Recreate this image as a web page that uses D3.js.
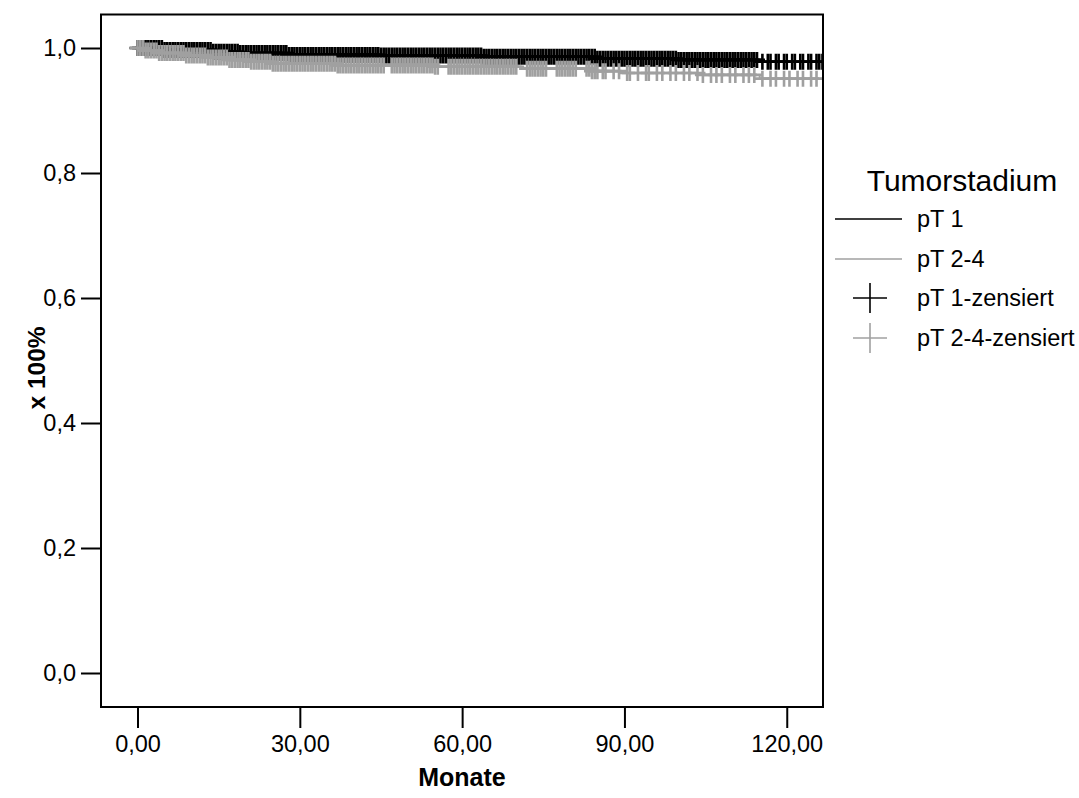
<!DOCTYPE html>
<html><head><meta charset="utf-8">
<script src="https://cdn.jsdelivr.net/npm/d3@7"></script>
<style>body{margin:0;background:#fff}svg{display:block}text{font-family:"Liberation Sans",Arial,sans-serif}</style>
</head><body>
<svg id="c" width="1079" height="798"></svg>
<script>
// ---- data ----
const seriesNames = ["pT 1", "pT 2-4"];
const censorNames = ["pT 1-zensiert", "pT 2-4-zensiert"];
const legendTitle = "Tumorstadium";
const xTicks = [0, 30, 60, 90, 120];
const xTickLabels = ["0,00", "30,00", "60,00", "90,00", "120,00"];
const yTicks = [0, 0.2, 0.4, 0.6, 0.8, 1.0];
const yTickLabels = ["0,0", "0,2", "0,4", "0,6", "0,8", "1,0"];
const xTitle = "Monate";
const yTitle = "x 100%";

// step times (months) and survival after each step
const pT1Times  = [0, 5, 14, 19, 28, 45, 64, 85, 100, 115, 126.7];
const pT1Surv   = [1.0, 0.997, 0.994, 0.992, 0.989, 0.988, 0.986, 0.983, 0.981, 0.978, 0.978];
const pT24Times = [0, 1.5, 4, 9, 13, 17, 21, 25, 37, 55, 71, 84, 90, 104, 115, 126.7];
const pT24Surv  = [1.0, 0.996, 0.992, 0.988, 0.985, 0.981, 0.978, 0.975, 0.972, 0.970, 0.967, 0.963, 0.960, 0.957, 0.951, 0.951];

// censored observations (months)
const pT1Censored = [0, 0.5, 1, 1.5, 2, 2.5, 3, 3.5, 4, 4.5, 5, 5.5, 6, 6.5, 7, 7.5, 8, 8.5, 9, 9.5,
  10, 10.5, 11, 11.5, 12, 12.5, 13, 13.5, 14, 14.5, 15, 15.5, 16, 16.5, 17, 17.5, 18, 18.5, 19, 19.5,
  20, 20.5, 21, 21.5, 22, 22.5, 23, 23.5, 24, 24.5, 25, 25.5, 26, 26.5, 27, 27.5, 28, 28.5, 29, 29.5,
  30, 30.5, 31, 31.5, 32, 32.5, 33, 33.5, 34, 34.5, 35, 35.5, 36, 36.5, 37, 37.5, 38, 38.5, 39, 39.5,
  40, 40.5, 41, 41.5, 42, 42.5, 43, 43.5, 44, 44.5, 45, 45.5, 46, 46.5, 47, 47.5, 48, 48.5, 49, 49.5,
  50, 50.5, 51, 51.5, 52, 52.5, 53, 53.5, 54, 54.5, 55, 55.5, 56, 56.5, 57, 57.5, 58, 58.5, 59, 59.5,
  60, 60.5, 61, 61.5, 62, 62.5, 63, 63.5, 64, 64.5, 65, 65.5, 66, 66.5, 67, 67.5, 68, 68.5, 69, 69.5,
  70, 70.5, 71, 71.5, 72, 72.5, 73, 73.5, 74, 74.5, 75, 75.5, 76, 76.5, 77, 77.5, 78, 78.5, 79, 79.5,
  80, 80.5, 81, 81.5, 82, 82.5, 83, 83.5, 84, 84.5, 85, 85.5, 86, 86.5, 87, 87.5, 88, 88.5, 89, 89.5,
  90, 90.5, 91, 91.5, 92, 92.5, 93, 93.5, 94, 94.5, 95, 95.5, 96, 96.5, 97, 97.5, 98, 98.5, 99, 99.5,
  100, 100.5, 101, 101.5, 102, 102.5, 103, 103.5, 104, 104.5, 105, 105.5, 106, 106.5, 107, 107.5,
  108, 108.5, 109, 109.5, 110, 110.5, 111, 111.5, 112, 112.5, 113, 113.5, 114, 114.5,
  115.5, 116.5, 117, 118, 118.5, 119.5, 120, 121, 121.5, 122.5, 123, 124, 124.5, 125.5, 126, 126.6];
const pT24Censored = [0, 0.5, 1, 1.5, 2, 2.5, 3, 3.5, 4, 4.5, 5, 5.5, 6, 6.5, 7, 7.5, 8, 8.5, 9, 9.5,
  10, 10.5, 11, 11.5, 12, 12.5, 13, 13.5, 14, 14.5, 15, 15.5, 16, 16.5, 17, 17.5, 18, 18.5, 19, 19.5,
  20, 20.5, 21, 21.5, 22, 22.5, 23, 23.5, 24, 24.5, 25, 25.5, 26, 26.5, 27, 27.5, 28, 28.5, 29, 29.5,
  30, 30.5, 31, 31.5, 32, 32.5, 33, 33.5, 34, 34.5, 35, 35.5, 36, 36.5, 37, 37.5, 38, 38.5, 39, 39.5,
  40, 40.5, 41, 41.5, 42, 42.5, 43, 43.5, 44, 44.5, 45, 45.5, 47, 47.5, 48, 48.5, 49, 49.5,
  50, 50.5, 51, 51.5, 52, 52.5, 53, 53.5, 54, 54.5, 55, 55.5, 57.5, 58, 58.5, 59, 59.5,
  60, 60.5, 61, 61.5, 62, 62.5, 63, 63.5, 64, 64.5, 65, 65.5, 66, 66.5, 67, 67.5, 68, 68.5, 69, 69.5,
  70, 72, 72.5, 73, 73.5, 74, 74.5, 75, 75.5, 77.5, 78, 78.5, 79, 79.5,
  80, 80.5, 81, 83, 83.5, 84, 84.5, 85,
  86, 86.5, 88, 89, 90.5, 91, 92.5, 94, 94.5, 96, 97, 98.5, 99.5, 101, 102, 103.5, 104.5, 106, 107, 108,
  109.5, 110.5, 112, 113, 114, 115.5, 117, 118, 119.5, 120.5, 122, 123, 124.5, 125.5];

const black = "#000000", grey = "#a0a0a0";

// ---- chart ----
const svg = d3.select("#c");
const x = d3.scaleLinear().domain([-6.75, 126.7]).range([101, 823]);
const y = d3.scaleLinear().domain([-0.0544, 1.0536]).range([707, 14.5]);

svg.append("defs").append("clipPath").attr("id", "clip")
  .append("rect").attr("x", 101).attr("y", 14.5).attr("width", 722).attr("height", 692.5);

function survAt(times, surv, t) {
  let s = 1;
  for (let i = 0; i < times.length; i++) if (times[i] <= t) s = surv[i];
  return s;
}
function stepPoints(times, surv) {
  return times.map((t, i) => [t, surv[i]]);
}
const line = d3.line().x(d => x(d[0])).y(d => y(d[1])).curve(d3.curveStepAfter);

const plot = svg.append("g").attr("clip-path", "url(#clip)");
const groups = [
  {times: pT1Times, surv: pT1Surv, cens: pT1Censored, color: black},
  {times: pT24Times, surv: pT24Surv, cens: pT24Censored, color: grey}
];
groups.forEach(g => {
  plot.append("path").attr("d", line(stepPoints(g.times, g.surv)))
    .attr("fill", "none").attr("stroke", g.color).attr("stroke-width", 2);
  const cg = plot.append("g").attr("stroke", g.color).attr("stroke-width", 2.6);
  g.cens.forEach(t => {
    const cx = x(t), cy = y(survAt(g.times, g.surv, t));
    cg.append("line").attr("x1", cx - 8).attr("x2", cx + 8).attr("y1", cy).attr("y2", cy);
    cg.append("line").attr("x1", cx).attr("x2", cx).attr("y1", cy - 8).attr("y2", cy + 8);
  });
});

// frame
svg.append("rect").attr("x", 101).attr("y", 14.5).attr("width", 722).attr("height", 692.5)
  .attr("fill", "none").attr("stroke", "#000").attr("stroke-width", 2);

// axes
const xAxis = d3.axisBottom(x).tickValues(xTicks).tickSize(21).tickPadding(7)
  .tickFormat((d, i) => xTickLabels[i]);
const gx = svg.append("g").attr("transform", "translate(0,707)").call(xAxis);
gx.select(".domain").remove();
gx.selectAll("line").attr("stroke", "#000").attr("stroke-width", 2);
gx.selectAll("text").attr("font-size", 23.5).attr("fill", "#000").attr("font-family", "Liberation Sans, Arial, sans-serif");

const yAxis = d3.axisLeft(y).tickValues(yTicks).tickSize(20).tickPadding(5)
  .tickFormat((d, i) => yTickLabels[i]);
const gy = svg.append("g").attr("transform", "translate(101,0)").call(yAxis);
gy.select(".domain").remove();
gy.selectAll("line").attr("stroke", "#000").attr("stroke-width", 2);
gy.selectAll("text").attr("font-size", 23.5).attr("fill", "#000").attr("font-family", "Liberation Sans, Arial, sans-serif");

svg.append("text").attr("x", 462).attr("y", 786).attr("text-anchor", "middle")
  .attr("font-size", 25).attr("font-weight", "bold").text(xTitle);
svg.append("text").attr("transform", "translate(45,368) rotate(-90)").attr("text-anchor", "middle")
  .attr("font-size", 24.5).attr("font-weight", "bold").text(yTitle);

// legend
const lg = svg.append("g");
lg.append("text").attr("x", 962).attr("y", 191).attr("text-anchor", "middle")
  .attr("font-size", 30).text(legendTitle);
const rows = [
  {label: seriesNames[0], color: black, type: "line", cy: 219},
  {label: seriesNames[1], color: grey, type: "line", cy: 259},
  {label: censorNames[0], color: black, type: "plus", cy: 298},
  {label: censorNames[1], color: grey, type: "plus", cy: 338}
];
rows.forEach(r => {
  if (r.type === "line") {
    lg.append("line").attr("x1", 835).attr("x2", 902).attr("y1", r.cy).attr("y2", r.cy)
      .attr("stroke", r.color).attr("stroke-width", 1.6);
  } else {
    lg.append("line").attr("x1", 853).attr("x2", 887).attr("y1", r.cy).attr("y2", r.cy)
      .attr("stroke", r.color).attr("stroke-width", 1.6);
    lg.append("line").attr("x1", 870).attr("x2", 870).attr("y1", r.cy - 15).attr("y2", r.cy + 15)
      .attr("stroke", r.color).attr("stroke-width", 1.6);
  }
  lg.append("text").attr("x", 917).attr("y", r.cy + 8).attr("font-size", 23.5).text(r.label);
});
</script>
</body></html>
